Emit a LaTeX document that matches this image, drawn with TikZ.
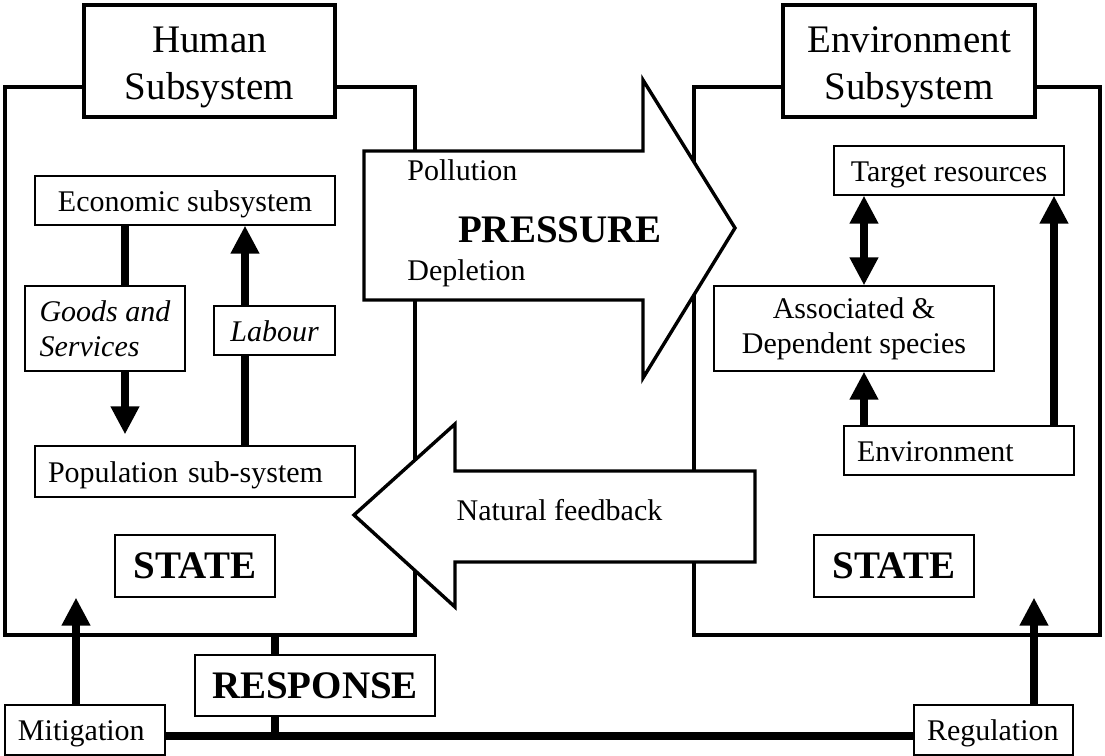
\documentclass[tikz,border=0pt]{standalone}
\usepackage{fontspec}
\setmainfont{Liberation Serif}
\usetikzlibrary{arrows.meta,positioning,calc}

\begin{document}
\begin{tikzpicture}[x=0.5pt, y=-0.5pt,
            sysbox/.style={draw, line width=1.8pt, inner sep=0pt, minimum width=205pt, minimum height=274pt},
            titlebox/.style={draw, line width=1.8pt, fill=white, align=center, inner sep=0pt,
                minimum width=125.5pt, minimum height=56pt, font=\fontsize{19.5}{23.5}\selectfont},
            plainbox/.style={draw, line width=0.6pt, fill=white, inner xsep=6.5pt, inner ysep=0pt,
                font=\fontsize{15}{17.5}\selectfont},
            onebox/.style={plainbox, text height=10.7pt, text depth=0pt, minimum height=24.5pt},
            statebox/.style={draw, line width=0.6pt, fill=white, inner sep=0pt,
                font=\fontsize{19.5}{23.5}\selectfont\bfseries},
            bigarrow/.style={draw, line width=1.7pt, fill=white, line join=miter},
            txt/.style={inner sep=0pt, font=\fontsize{15}{17.5}\selectfont},
            flow/.style={line width=4.2pt, -{Triangle[length=14pt, width=13.5pt]}},
            flowboth/.style={line width=4.2pt, {Triangle[length=14pt, width=13.5pt]}-{Triangle[length=14pt, width=13.5pt]}},
            link/.style={line width=4.2pt}]
        \useasboundingbox (0,0) rectangle (1105,756);

        \node[sysbox] (humsys) at (210,361) {};
        \node[sysbox, minimum width=203pt] (envsys) at (897,361) {};

        \draw[bigarrow] (364,151) -- (643,151) -- (643,80) -- (735,228) -- (643,378) -- (643,300) -- (364,300) -- cycle;
        \draw[bigarrow] (755,471) -- (455,471) -- (455,424) -- (354,515) -- (455,607) -- (455,562) -- (755,562) -- cycle;
        \node[txt, anchor=base west] (poll) at (407,180) {Pollution};
        \node[txt, anchor=base, font=\fontsize{19.5}{23.5}\selectfont\bfseries] (press) at (560,242) {PRESSURE};
        \node[txt, anchor=base west] (depl) at (407,280) {Depletion};
        \node[txt, anchor=base] (feed) at (559.5,520) {Natural feedback};

        \node[titlebox] (humtitle) at (209.5,61) {\rule{0pt}{19.7pt}Human\\Subsystem};
        \node[titlebox, minimum width=126pt] (envtitle) at (909,61) {\rule{0pt}{19.7pt}Environment\\Subsystem};

        \node[onebox, minimum width=150pt] (econ) at (185,200.5) {Economic subsystem};
        \node[plainbox, minimum width=80pt, minimum height=42.5pt, align=left,
              font=\fontsize{15}{17.5}\selectfont\itshape] (goods) at (105,328.5) {Goods and\\Services};
        \node[onebox, minimum width=60.5pt, font=\fontsize{15}{17.5}\selectfont\itshape] (labour) at (274.5,330.5) {Labour};
        \node[onebox, minimum height=25.5pt, text width=147pt, align=left] (popul) at (195,471.5) {Population sub-system};
        \node[statebox, minimum width=80pt, minimum height=31pt] (statel) at (195,566) {STATE};

        \node[onebox, minimum width=115pt] (target) at (949,170.5) {Target resources};
        \node[plainbox, minimum width=140pt, minimum height=42.5pt, align=center] (assoc) at (854,328.5) {Associated \&\\Dependent species};
        \node[onebox, text width=102pt, align=left] (envir) at (959,450.5) {Environment};
        \node[statebox, minimum width=80pt, minimum height=31pt] (stater) at (894,566) {STATE};

        \node[statebox, minimum width=120pt, minimum height=30.5pt] (response) at (315,685.5) {RESPONSE};
        \node[onebox, minimum height=25pt, text width=67pt, align=left] (mitig) at (85,730) {Mitigation};
        \node[onebox, minimum height=25pt, text width=66.5pt, align=left] (regul) at (993.5,730) {Regulation};

        \coordinate (gx) at (125,0);
        \coordinate (lx) at (245,0);
        \coordinate (ax) at (864,0);
        \coordinate (tx) at (1054,0);
        \coordinate (mx) at (76,0);
        \coordinate (rgx) at (1034,0);
        \coordinate (rx) at (275,0);
        \coordinate (base) at (0,736);

        \draw[link] (econ.south -| gx) -- (goods.north -| gx);
        \draw[flow, shorten >=5.5pt] (goods.south -| gx) -- (popul.north -| gx);
        \draw[link] (popul.north -| lx) -- (labour.south -| lx);
        \draw[flow] (labour.north -| lx) -- (econ.south -| lx);

        \draw[flowboth] (target.south -| ax) -- (assoc.north -| ax);
        \draw[flow] (envir.north -| ax) -- (assoc.south -| ax);
        \draw[flow] (envir.north -| tx) -- (target.south -| tx);

        \draw[link] (mitig.east |- base) -- (regul.west |- base);
        \draw[link] (humsys.south -| rx) -- (response.north -| rx);
        \draw[link] (response.south -| rx) -- (base -| rx);
        \draw[flow] (mitig.north -| mx) -- (statel.south -| mx);
        \draw[flow] (regul.north -| rgx) -- (stater.south -| rgx);
\end{tikzpicture}
\end{document}
